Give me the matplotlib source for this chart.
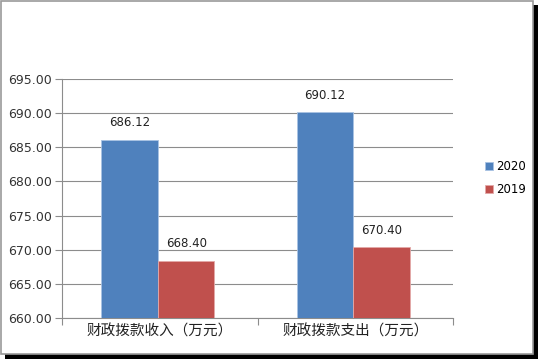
import matplotlib
matplotlib.use("Agg")
import matplotlib.pyplot as plt
import numpy as np
from matplotlib.patches import Rectangle

plt.rcParams["font.family"] = ["Noto Sans CJK SC", "DejaVu Sans"]

categories = ["财政拨款收入（万元）", "财政拨款支出（万元）"]
values_2020 = [686.12, 690.12]
values_2019 = [668.40, 670.40]
series_names = ["2020", "2019"]
yticks = [660, 665, 670, 675, 680, 685, 690, 695]

fig = plt.figure(figsize=(5.38, 3.59), dpi=100)

# outer frame with a dark shadow on right/bottom
fig.patches.append(Rectangle((5 / 538, 0), 533 / 538, 5 / 359, transform=fig.transFigure,
                             facecolor="black", edgecolor="none", zorder=-3))
fig.patches.append(Rectangle((533 / 538, 0), 5 / 538, 354 / 359, transform=fig.transFigure,
                             facecolor="black", edgecolor="none", zorder=-3))
fig.patches.append(Rectangle((0.5 / 538, 5.5 / 359), 532.5 / 538, 353 / 359, transform=fig.transFigure,
                             facecolor="white", edgecolor="#9a9a9a", linewidth=1.2, zorder=-2))

ax = fig.add_axes([62 / 538, 41 / 359, 391 / 538, 239 / 359])
ax.set_facecolor("none")

x = np.arange(len(categories))
w = 0.29
b1 = ax.bar(x - w / 2 - 0.01, [v - 660 for v in values_2020], w, bottom=660, color="#4F81BD",
            edgecolor="#a9c3e3", linewidth=0.6, label=series_names[0], zorder=3)
b2 = ax.bar(x + w / 2 - 0.01, [v - 660 for v in values_2019], w, bottom=660, color="#C0504D",
            edgecolor="#e3a9a8", linewidth=0.6, label=series_names[1], zorder=3)

for xi, v in zip(x - w / 2 - 0.01, values_2020):
    ax.text(xi, v + 1.5, f"{v:.2f}", ha="center", va="bottom", fontsize=8.5,
            family="DejaVu Sans", color="#222222")
for xi, v in zip(x + w / 2 - 0.01, values_2019):
    ax.text(xi, v + 1.5, f"{v:.2f}", ha="center", va="bottom", fontsize=8.5,
            family="DejaVu Sans", color="#222222")

ax.set_ylim(660, 695)
ax.set_xlim(-0.5, 1.5)
ax.set_yticks(yticks)
ax.set_yticklabels([f"{t:.2f}" for t in yticks], fontsize=9, family="DejaVu Sans", color="#333333")
ax.yaxis.grid(True, color="#8c8c8c", linewidth=0.8, zorder=0)
ax.tick_params(axis="y", length=5, color="#8c8c8c", pad=2)

ax.set_xticks([-0.5, 0.5, 1.5])
ax.set_xticklabels([])
ax.set_xticks(x, minor=True)
ax.set_xticklabels(categories, minor=True, fontsize=10.5, color="#222222")
ax.tick_params(axis="x", which="major", length=5, color="#8c8c8c", direction="out")
ax.tick_params(axis="x", which="minor", length=0, pad=5)

for s in ["top", "right"]:
    ax.spines[s].set_visible(False)
for s in ["left", "bottom"]:
    ax.spines[s].set_color("#8c8c8c")
    ax.spines[s].set_linewidth(0.8)

ax.legend(loc="center left", bbox_to_anchor=(1.055, 0.585), frameon=False,
          handlelength=0.7, handleheight=0.7, handletextpad=0.2, labelspacing=0.9,
          prop={"family": "DejaVu Sans", "size": 8.5})

fig.savefig("out.png", dpi=100)
